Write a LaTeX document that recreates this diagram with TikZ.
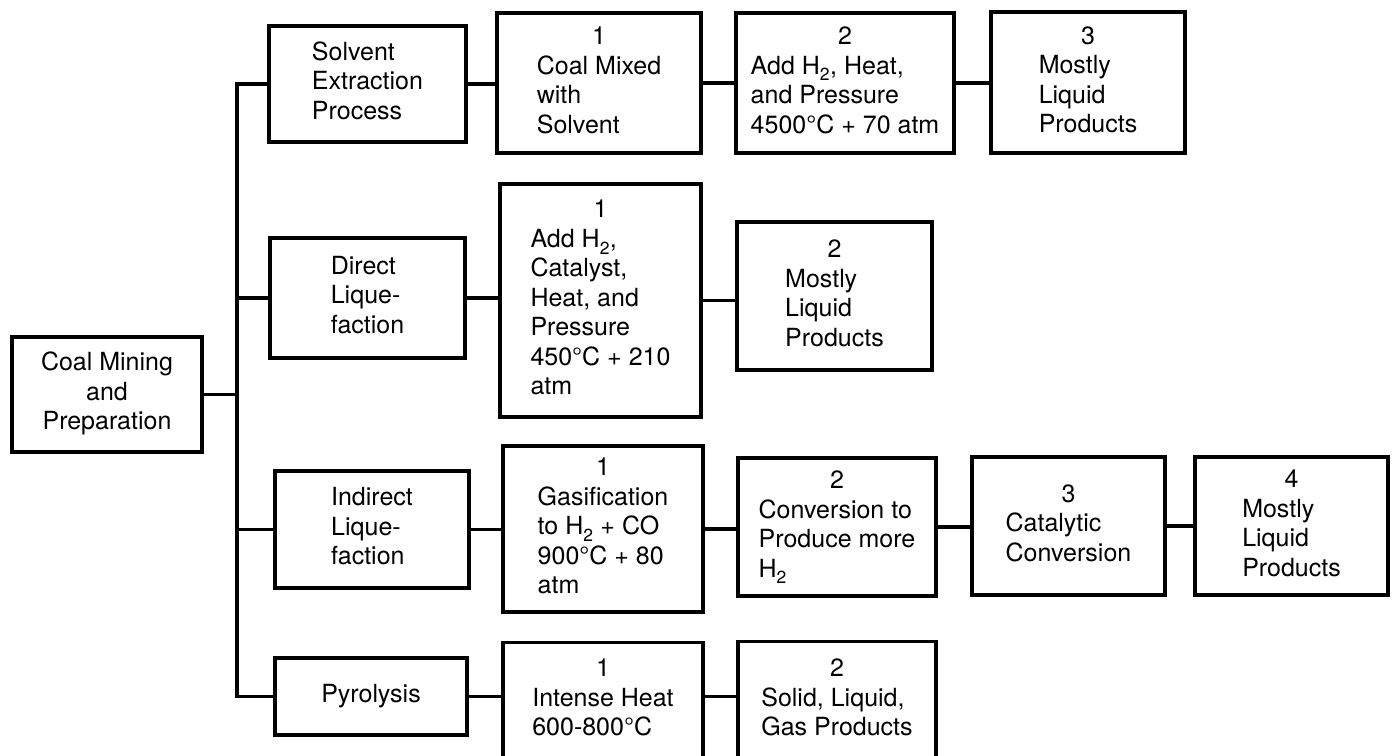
\documentclass[tikz,border=0pt]{standalone}
\usepackage{fontspec}
\setmainfont{TeX Gyre Heros}
% a step box: centred step number over left-aligned lines
\newcommand\numbered[2]{\begin{tabular}{@{}l@{}}\multicolumn{1}{@{}c@{}}{#1}\\#2\end{tabular}}
\newcommand\numberedtop[2]{\begin{tabular}[t]{@{}l@{}}\multicolumn{1}{@{}c@{}}{#1}\\#2\end{tabular}}
\newcommand\leftlines[1]{\begin{tabular}{@{}l@{}}#1\end{tabular}}
\newcommand\centrelines[1]{\begin{tabular}{@{}c@{}}#1\end{tabular}}
% subscript set a little lower than the default
\newcommand\subtwo{\raisebox{-0.12em}{\textsubscript{2}}}
\begin{document}
\begin{tikzpicture}[x=1pt,y=-1pt,
  every node/.style={font=\fontsize{25}{29.5}\selectfont},
  proc/.style={draw, line width=3.2pt, rectangle, inner sep=0pt},
  link/.style={line width=3.2pt}]
\useasboundingbox (0,0) rectangle (1392,755);

% source
\node[proc, minimum width=190, minimum height=115] (coal) at (107,394.5)
  {\centrelines{Coal Mining\\and\\Preparation}};
\coordinate (spine) at (237,0);

% solvent extraction
\node[proc, minimum width=197, minimum height=116] (s0) at (367.5,84)
  {\leftlines{Solvent\\Extraction\\Process}};
\node[proc, minimum width=204, minimum height=140] (s1) at (599,83)
  {\numbered{1}{Coal Mixed\\with\\Solvent}};
\node[proc, minimum width=218, minimum height=140] (s2) at (845,83)
  {\numbered{2}{Add H\subtwo, Heat,\\and Pressure\\4500°C + 70 atm}};
\node[proc, minimum width=194, minimum height=141] (s3) at (1088,82.5)
  {\numbered{3}{Mostly\\Liquid\\Products}};

% direct liquefaction
\node[proc, minimum width=195, minimum height=120] (d0) at (367.5,298)
  {\leftlines{Direct\\Lique-\\faction}};
\node[proc, minimum width=201, minimum height=233] (d1) at (600.5,300.5)
  {\numbered{1}{Add H\subtwo,\\Catalyst,\\Heat, and\\Pressure\\450°C + 210\\atm}};
\node[proc, minimum width=195, minimum height=148] (d2) at (834.5,296)
  {\numbered{2}{Mostly\\Liquid\\Products}};

% indirect liquefaction
\node[proc, minimum width=194, minimum height=117] (i0) at (372,529.5)
  {\leftlines{Indirect\\Lique-\\faction}};
\node[proc, minimum width=200, minimum height=166] (i1) at (603,529)
  {\numbered{1}{Gasification\\to H\subtwo{} + CO\\900°C + 80\\atm}};
\node[proc, minimum width=198, minimum height=138] (i2) at (837,527)
  {\numbered{2}{Conversion to\\Produce more\\H\subtwo}};
\node[proc, minimum width=193, minimum height=138] (i3) at (1068.5,526)
  {\numbered{3}{Catalytic\\Conversion}};
\node[proc, minimum width=193, minimum height=138] (i4) at (1291.5,526)
  {\numbered{4}{Mostly\\Liquid\\Products}};

% pyrolysis
\node[proc, minimum width=192, minimum height=77] (p0) at (371,696.5) {Pyrolysis};
\node[proc, minimum width=200, text height=34pt, text depth=115pt, anchor=north] (p1) at (603,641)
  {\numberedtop{1}{Intense Heat\\600-800°C}};
\node[proc, minimum width=198, text height=35pt, text depth=115pt, anchor=north] (p2) at (837,640)
  {\numberedtop{2}{Solid, Liquid,\\Gas Products}};

% branching spine
\draw[link] (coal.east) -- (coal.east -| spine);
\draw[link] (s0.west) -- (s0.west -| spine) -- (p0.west -| spine) -- (p0.west);
\draw[link] (d0.west) -- (d0.west -| spine);
\draw[link] (i0.west) -- (i0.west -| spine);

% process chains
\draw[link] (s0.east) -- (s0.east -| s1.west);
\draw[link] (s1.east) -- (s1.east -| s2.west);
\draw[link] (s2.east) -- (s2.east -| s3.west);
\draw[link] (d0.east) -- (d0.east -| d1.west);
\draw[link] (d1.east) -- (d1.east -| d2.west);
\draw[link] (i0.east) -- (i0.east -| i1.west);
\draw[link] (i1.east) -- (i1.east -| i2.west);
\draw[link] (i2.east) -- (i2.east -| i3.west);
\draw[link] (i3.east) -- (i3.east -| i4.west);
\draw[link] (p0.east) -- (p0.east -| p1.west);
\draw[link] (p1.east |- p0.east) -- (p0.east -| p2.west);
\end{tikzpicture}
\end{document}
